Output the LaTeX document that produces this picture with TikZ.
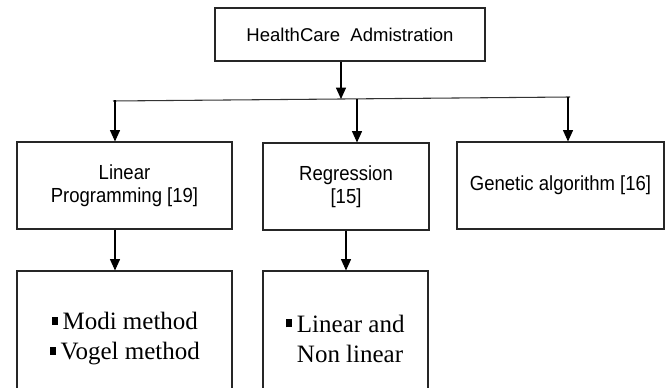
\documentclass[tikz,border=0pt]{standalone}
\usepackage{fontspec}
\setmainfont{Liberation Serif}
\setsansfont{Liberation Sans}
\usetikzlibrary{arrows.meta}
\begin{document}
\begin{tikzpicture}[x=0.75pt,y=-0.75pt,
  box/.style={draw=black!85,line width=0.8pt,inner sep=0pt,align=center,
    font=\sffamily\fontsize{13.9}{17.25}\selectfont},
  bul/.style={inner sep=0pt,font=\rmfamily\fontsize{18.75}{22.5}\selectfont},
  arr/.style={draw=black,line width=0.8pt,-{Triangle[length=8.5pt,width=7.5pt]}},
  conn/.style={draw=black!80,line width=0.8pt}]
\useasboundingbox (0,0) rectangle (670,388);
\clip (0,0) rectangle (670,388);
\newcommand{\sqb}{\rule[0.19em]{0.24em}{0.32em}\hspace{0.18em}}
\newcommand{\tallt}[1]{\scalebox{1}[1.1]{#1}}
% boxes
\node[box,minimum width=202.5pt,minimum height=39.75pt] (top) at (350,34.5) {HealthCare\ \ Admistration};
\node[box,minimum width=161.25pt,minimum height=65.25pt] (lp) at (124.5,185.5) {\tallt{Linear}\\\tallt{Programming [19]}};
\node[box,minimum width=124.5pt,minimum height=65.25pt] (reg) at (346,186.5) {\tallt{Regression}\\\tallt{[15]}};
\node[box,minimum width=155.25pt,minimum height=65.25pt] (gen) at (560.5,185.5) {\tallt{Genetic algorithm [16]}};
\node[box,minimum width=161.25pt,minimum height=111.75pt] (lpb) at (124.5,345.5) {};
\node[box,minimum width=123.75pt,minimum height=111.75pt] (regb) at (345.5,345.5) {};
\node[bul,align=center] (lpt) at (125,338.5) {\sqb Modi method\\\sqb Vogel method};
\node[bul,align=left] (regt) at (345.5,338.5) {\sqb Linear and\\\phantom{\sqb}Non linear};
% connectors
\coordinate (hl) at (113,101);
\coordinate (hr) at (570,97);
\draw[conn] (hl) -- (hr);
\coordinate (jt) at (341,99);
\coordinate (j1) at (115,100.5);
\coordinate (j2) at (357,99.5);
\coordinate (j3) at (568,97.5);
\draw[arr] (jt |- top.south) -- (jt);
\draw[arr] (j1) -- (j1 |- lp.north);
\draw[arr] (j2) -- (j2 |- reg.north);
\draw[arr] (j3) -- (j3 |- gen.north);
\coordinate (b1) at (115,250);
\coordinate (b2) at (346,250);
\draw[arr] (b1 |- lp.south) -- (b1 |- lpb.north);
\draw[arr] (b2 |- reg.south) -- (b2 |- regb.north);
\end{tikzpicture}
\end{document}
